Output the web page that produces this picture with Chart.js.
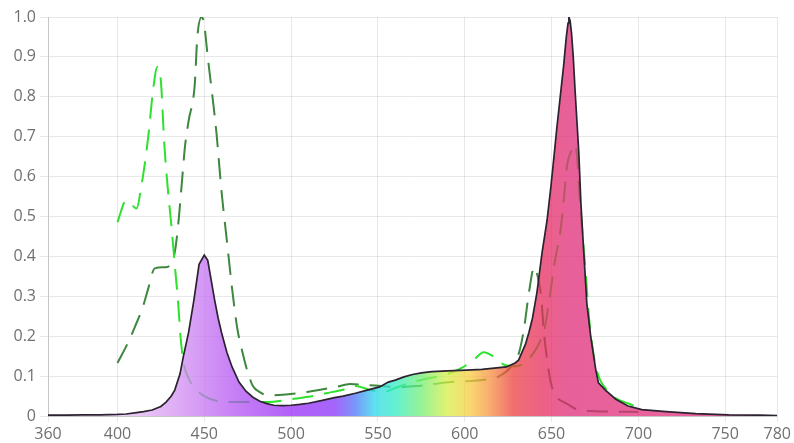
<!DOCTYPE html>
<html>
<head>
<meta charset="utf-8">
<script src="https://cdn.jsdelivr.net/npm/chart.js@4/dist/chart.umd.min.js"></script>
<style>
  html, body { margin: 0; padding: 0; background: #fff; }
  #wrap { width: 794px; height: 443px; }
</style>
</head>
<body>
<div id="wrap"><canvas id="c" width="794" height="443"></canvas></div>
<script>
// ---- data ----
const xTicks = [360, 400, 450, 500, 550, 600, 650, 700, 750, 780];

const spectrumNm = [360, 370, 380, 390, 400, 405, 410, 415, 420, 425, 428, 431, 433, 436, 438, 441, 444, 447, 450, 452, 454, 456, 458, 460, 463, 466, 470, 474, 478, 482, 486, 490, 495, 500, 505, 510, 518, 525, 530, 537, 545, 551, 556, 560, 565, 570, 575, 581, 590, 601, 610, 617, 624, 629, 631, 633, 635, 637, 639, 641.6, 644.5, 647.4, 649.6, 651.4, 653, 655, 657, 658.5, 659.5, 660, 660.7, 661.5, 662.5, 663.5, 664.6, 665.7, 666.9, 668.6, 670.3, 672.6, 675.5, 677, 681, 687, 694, 702, 716, 733, 752, 770, 780];
const spectrumVal = [0.002, 0.002, 0.003, 0.003, 0.004, 0.005, 0.008, 0.011, 0.015, 0.024, 0.035, 0.05, 0.065, 0.105, 0.15, 0.21, 0.29, 0.38, 0.403, 0.39, 0.34, 0.29, 0.245, 0.208, 0.16, 0.123, 0.085, 0.062, 0.047, 0.037, 0.031, 0.027, 0.026, 0.027, 0.029, 0.032, 0.039, 0.046, 0.05, 0.057, 0.066, 0.073, 0.085, 0.09, 0.098, 0.104, 0.108, 0.111, 0.113, 0.115, 0.117, 0.12, 0.123, 0.133, 0.14, 0.16, 0.18, 0.21, 0.245, 0.31, 0.408, 0.49, 0.574, 0.65, 0.72, 0.80, 0.88, 0.95, 0.985, 1.0, 0.99, 0.96, 0.9, 0.82, 0.74, 0.66, 0.534, 0.408, 0.283, 0.198, 0.115, 0.083, 0.065, 0.042, 0.025, 0.016, 0.011, 0.006, 0.003, 0.002, 0.001];

const chlANm = [400, 405, 408, 411, 414, 416, 418, 420.5, 423, 425, 427, 429, 431, 433, 435, 436.5, 438.5, 441.5, 445, 450, 458, 468, 478, 490, 500, 510, 520, 530, 537, 545, 553, 560, 570, 580, 590, 598, 605, 611, 617, 623, 630, 636, 642, 646, 649, 652, 655, 657, 659, 661, 663, 664.5, 666.5, 668.5, 670, 671.5, 673, 675.5, 678, 681, 685, 690, 695, 700];
const chlAVal = [0.486, 0.54, 0.53, 0.52, 0.583, 0.64, 0.71, 0.817, 0.875, 0.84, 0.68, 0.57, 0.48, 0.38, 0.28, 0.19, 0.125, 0.09, 0.068, 0.05, 0.037, 0.035, 0.035, 0.036, 0.042, 0.048, 0.057, 0.066, 0.075, 0.066, 0.06, 0.07, 0.085, 0.095, 0.105, 0.12, 0.14, 0.16, 0.148, 0.128, 0.125, 0.14, 0.175, 0.22, 0.3, 0.39, 0.46, 0.54, 0.63, 0.66, 0.68, 0.66, 0.53, 0.42, 0.34, 0.25, 0.19, 0.123, 0.09, 0.07, 0.05, 0.038, 0.03, 0.02];

const chlBNm = [400, 406, 410, 414.6, 417.5, 421.5, 428, 431, 433, 435, 437, 439, 441, 444.5, 446, 448.5, 450, 452, 455, 457, 460, 463, 466, 469, 472, 475, 478, 482, 486, 495, 509, 516, 526, 534, 543, 552, 562, 572, 582, 592, 600, 610, 620, 627, 631, 634, 637, 640, 642, 644, 645.6, 647.5, 649.6, 653, 658, 665, 675, 685, 700];
const chlBVal = [0.133, 0.183, 0.223, 0.273, 0.316, 0.37, 0.373, 0.383, 0.41, 0.48, 0.58, 0.68, 0.74, 0.83, 0.95, 1.0, 0.98, 0.9, 0.79, 0.71, 0.56, 0.44, 0.32, 0.22, 0.16, 0.11, 0.075, 0.06, 0.052, 0.053, 0.06, 0.065, 0.073, 0.08, 0.078, 0.075, 0.072, 0.075, 0.08, 0.085, 0.087, 0.09, 0.1, 0.125, 0.155, 0.215, 0.31, 0.373, 0.35, 0.3, 0.21, 0.14, 0.083, 0.048, 0.033, 0.016, 0.012, 0.011, 0.01];

// ---- styles ----
const fillStops = [
  [360, 'rgba(245,232,248,0.75)'],
  [405, 'rgba(230,188,242,0.75)'],
  [435, 'rgba(211,144,242,0.75)'],
  [465, 'rgba(182,88,242,0.75)'],
  [500, 'rgba(152,42,246,0.75)'],
  [525, 'rgba(135,48,248,0.75)'],
  [537, 'rgba(75,115,248,0.75)'],
  [548, 'rgba(42,215,235,0.75)'],
  [560, 'rgba(48,235,195,0.75)'],
  [575, 'rgba(115,238,115,0.75)'],
  [590, 'rgba(215,238,68,0.75)'],
  [603, 'rgba(248,202,62,0.75)'],
  [615, 'rgba(246,142,62,0.75)'],
  [628, 'rgba(235,62,62,0.75)'],
  [645, 'rgba(230,43,95,0.75)'],
  [660, 'rgba(224,43,120,0.75)'],
  [780, 'rgba(224,48,126,0.75)']
];

function pts(xs, ys) { return xs.map((x, i) => ({ x: x, y: ys[i] })); }

function spectrumFill(context) {
  const chart = context.chart;
  const area = chart.chartArea;
  if (!area) return 'rgba(200,100,200,0.6)';
  const xs = chart.scales.x;
  const g = chart.ctx.createLinearGradient(area.left, 0, area.right, 0);
  const w = area.right - area.left;
  fillStops.forEach(([nm, col]) => {
    let f = (xs.getPixelForValue(nm) - area.left) / w;
    f = Math.min(1, Math.max(0, f));
    g.addColorStop(f, col);
  });
  return g;
}

const tickFont = { family: "'Open Sans', sans-serif", size: 16 };

new Chart(document.getElementById('c'), {
  type: 'line',
  data: {
    datasets: [
      {
        label: 'Spectrum',
        data: pts(spectrumNm, spectrumVal),
        borderColor: '#2b2330',
        borderWidth: 1.7,
        backgroundColor: spectrumFill,
        fill: 'origin',
        pointRadius: 0,
        tension: 0
      },
      {
        label: 'Chlorophyll A',
        data: pts(chlANm, chlAVal),
        borderColor: 'rgb(45,225,45)',
        borderWidth: 2,
        borderDash: [21, 11],
        fill: false,
        pointRadius: 0,
        cubicInterpolationMode: 'monotone'
      },
      {
        label: 'Chlorophyll B',
        data: pts(chlBNm, chlBVal),
        borderColor: 'rgb(62,135,62)',
        borderWidth: 2,
        borderDash: [21, 11],
        fill: false,
        pointRadius: 0,
        cubicInterpolationMode: 'monotone'
      }
    ]
  },
  options: {
    responsive: false,
    animation: false,
    devicePixelRatio: 1,
    layout: { padding: { top: 17, right: 14, left: 0, bottom: 0 } },
    plugins: { legend: { display: false }, tooltip: { enabled: false } },
    scales: {
      x: {
        type: 'linear',
        min: 360,
        max: 780,
        afterBuildTicks: (scale) => { scale.ticks = xTicks.map(v => ({ value: v })); },
        afterFit: (scale) => { scale.height = 27; },
        ticks: { color: '#707070', font: tickFont, maxRotation: 0, autoSkip: false, padding: 3,
                 callback: (v) => String(v) },
        grid: { color: 'rgba(0,0,0,0.09)', tickLength: 6 },
        border: { color: 'rgba(0,0,0,0.15)' }
      },
      y: {
        min: 0,
        max: 1,
        afterFit: (scale) => { scale.width = 48; },
        ticks: { stepSize: 0.1, color: '#707070', font: tickFont, padding: 4,
                 callback: (v) => (Math.abs(v) < 1e-9 ? '0' : v.toFixed(1)) },
        grid: { color: 'rgba(0,0,0,0.09)', tickLength: 8 },
        border: { color: 'rgba(0,0,0,0.15)' }
      }
    }
  }
});
</script>
</body>
</html>
